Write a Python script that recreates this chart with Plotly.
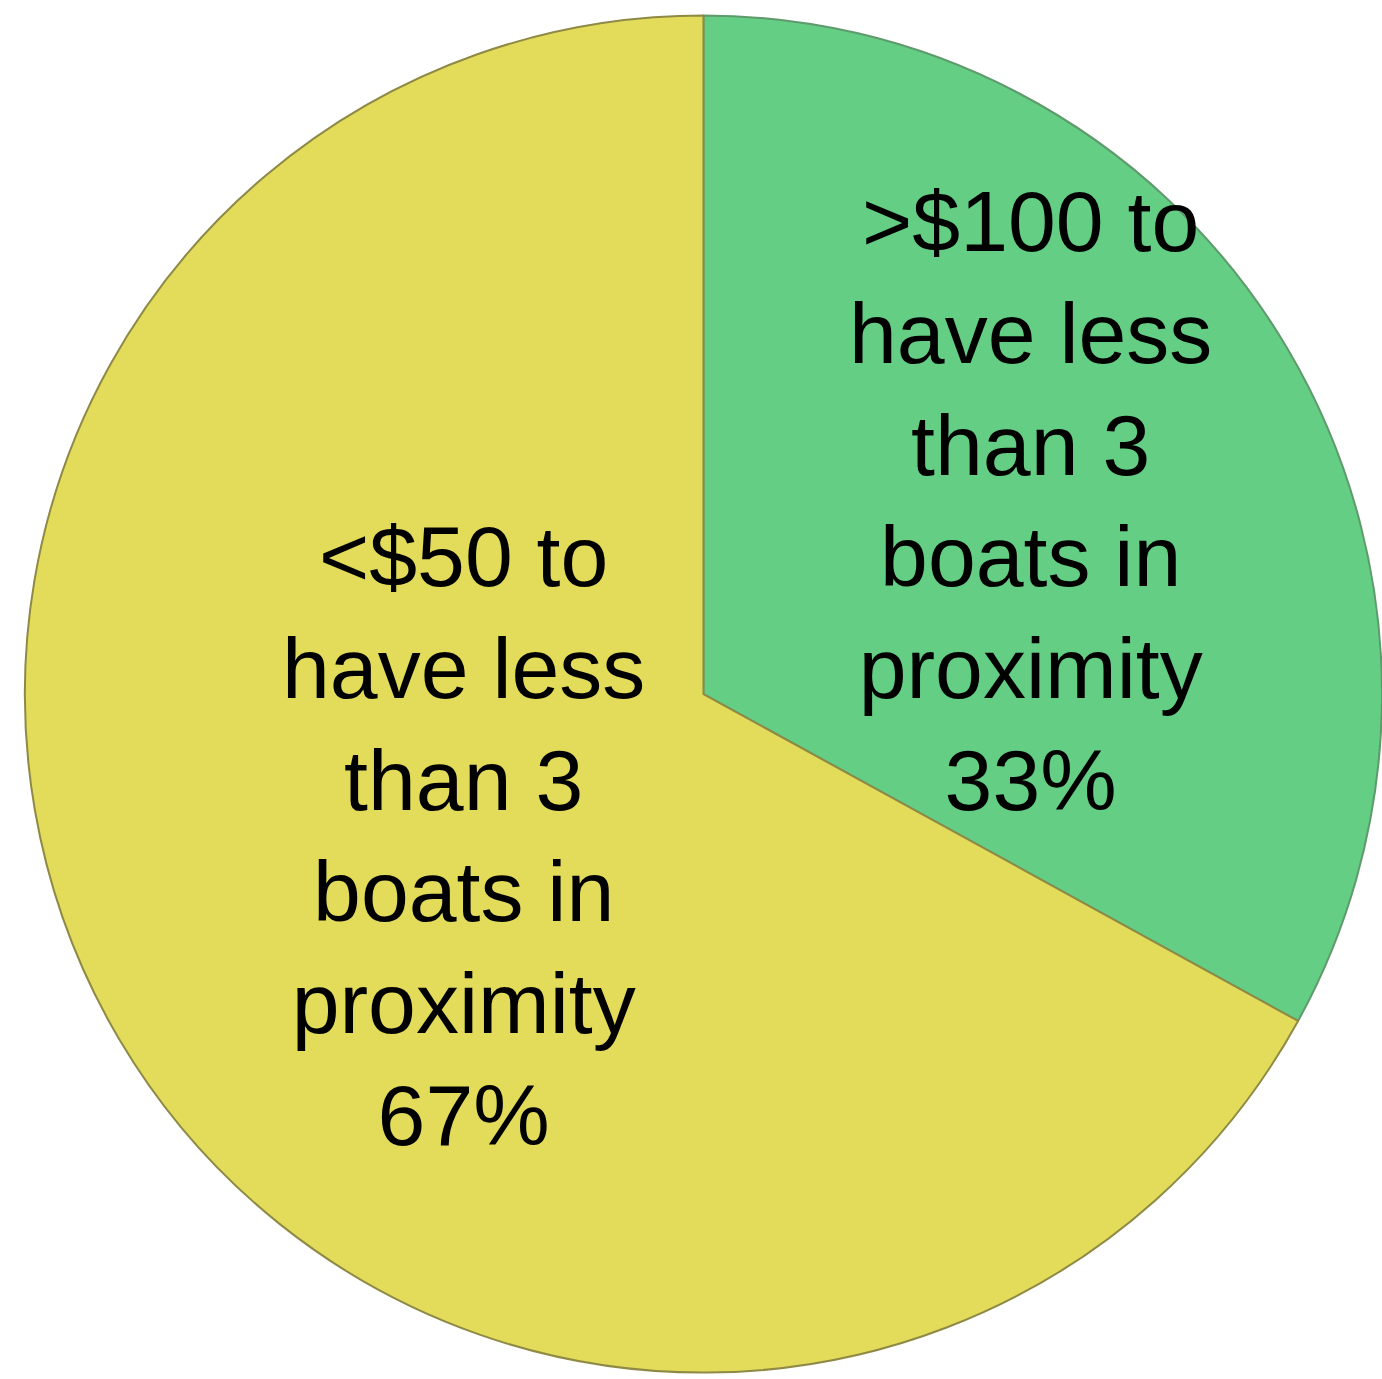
import math
import plotly.graph_objects as go

labels = [">$100 to<br>have less<br>than 3<br>boats in<br>proximity",
          "<$50 to<br>have less<br>than 3<br>boats in<br>proximity"]
values = [33, 67]
colors = ["#64CE85", "#E3DC5A"]
line_colors = ["#5E9A6C", "#8E8A45"]

W, H = 1382, 1379
dom_x = [0.018, 1.0]
dom_y = [0.0036, 0.9898]
label_radius = [0.56, 0.41]   # fraction of pie radius where each label sits

fig = go.Figure(go.Pie(
    labels=labels,
    values=values,
    sort=False,
    direction="clockwise",
    rotation=0,
    marker=dict(colors=colors, line=dict(color=line_colors, width=2)),
    textinfo="none",
    hoverinfo="label+percent",
    showlegend=False,
    domain=dict(x=dom_x, y=dom_y),
))

# label positions derived from the slice angles
cx = (dom_x[0] + dom_x[1]) / 2
cy = (dom_y[0] + dom_y[1]) / 2
r_px = min((dom_x[1] - dom_x[0]) * W, (dom_y[1] - dom_y[0]) * H) / 2
total = sum(values)
cum = 0
for lab, v, f in zip(labels, values, label_radius):
    theta = math.radians(360 * (cum + v / 2) / total)
    cum += v
    ax = cx + f * r_px * math.sin(theta) / W
    ay = cy + f * r_px * math.cos(theta) / H
    fig.add_annotation(
        x=ax, y=ay, xref="paper", yref="paper",
        text=f"{lab}<br>{round(100 * v / total)}%",
        showarrow=False, xanchor="center", yanchor="middle",
        font=dict(family="Liberation Sans, Arial, sans-serif", size=86, color="black"),
    )

fig.update_layout(
    width=W, height=H,
    margin=dict(l=0, r=0, t=0, b=0),
    paper_bgcolor="white",
    showlegend=False,
)

fig.write_html("out.html", config={"displayModeBar": False},
               post_script="document.body.style.margin='0';")
